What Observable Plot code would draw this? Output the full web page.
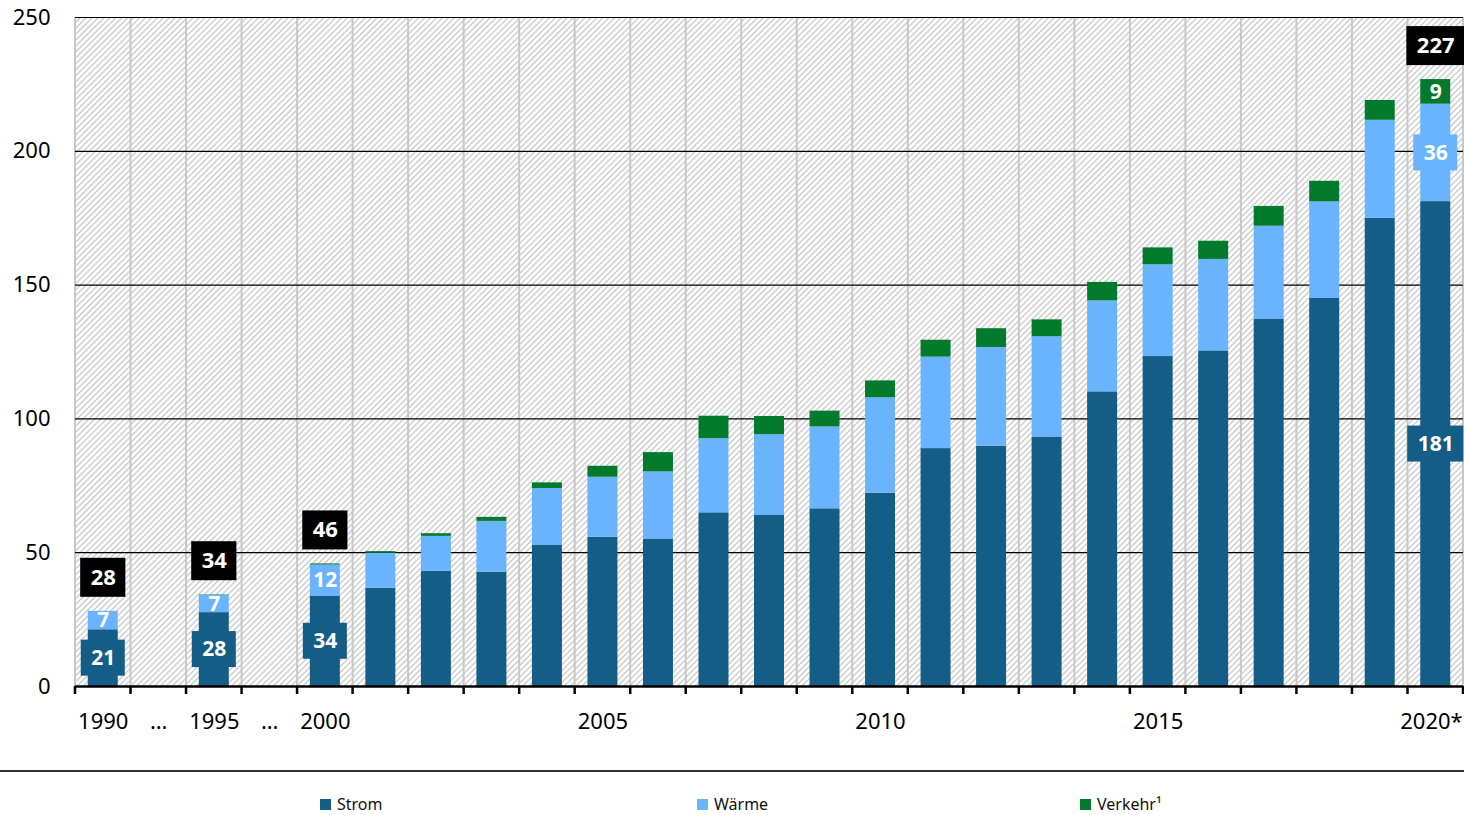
<!DOCTYPE html>
<html>
<head>
<meta charset="utf-8">
<script src="https://cdn.jsdelivr.net/npm/d3@7"></script>
<script src="https://cdn.jsdelivr.net/npm/@observablehq/plot@0.6"></script>
<style>
  html, body { margin: 0; padding: 0; background: #fff; }
  #wrap { position: relative; width: 1464px; height: 815px; overflow: hidden; font-family: "Noto Sans", sans-serif; }
  #sep { position: absolute; left: 0; top: 770px; width: 1464px; border-top: 2px solid #333; }
  .leg { position: absolute; top: 793px; height: 22px; font-size: 16px; color: #111; line-height: 22px; white-space: nowrap; }
  .sw { display: inline-block; width: 11px; height: 11px; margin-right: 6px; vertical-align: baseline; }
</style>
</head>
<body>
<div id="wrap">
  <div id="chart"></div>
  <div id="sep"></div>
  <div id="legend"></div>
</div>
<script>
// ---------- data ----------
const categories = ["1990","…1","1995","…2","2000","2001","2002","2003","2004","2005","2006","2007","2008","2009","2010","2011","2012","2013","2014","2015","2016","2017","2018","2019","2020*"];
const tickCategories = ["1990","…1","1995","…2","2000","2005","2010","2015"];
const tickText = ["1990","…","1995","…","2000","2005","2010","2015"];
const lastTick = "2020*";
const yTicks = [0, 50, 100, 150, 200, 250];

const strom   = [21.2, null, 27.6, null, 33.8, 36.7, 43.1, 42.7, 52.7, 55.8, 55.1, 64.9, 63.9, 66.4, 72.2, 88.9, 89.8, 93.2, 110.1, 123.3, 125.4, 137.3, 145.0, 175.0, 181.2];
const waerme  = [6.9, null, 6.6, null, 11.6, 13.1, 13.0, 19.0, 21.3, 22.4, 25.1, 27.7, 30.2, 30.6, 35.7, 34.2, 36.9, 37.5, 34.0, 34.3, 34.2, 34.7, 36.1, 36.6, 36.4];
const verkehr = [0.0, null, 0.1, null, 0.4, 0.6, 1.0, 1.5, 2.1, 4.1, 7.2, 8.4, 6.8, 5.9, 6.3, 6.3, 7.0, 6.3, 6.9, 6.3, 6.8, 7.4, 7.7, 7.4, 9.2];

const seriesNames  = ["Strom", "Wärme", "Verkehr¹"];
const seriesColors = ["#135d86", "#6ab4fe", "#037a2c"];
const labelCats = ["1990", "1995", "2000", "2020*"];

// ---------- layout ----------
const W = 1464, H = 745, mL = 75, mR = 1, mT = 17, mB = 59;
const FONT = '"Noto Sans", sans-serif';
const LABEL_FS = 21;
const PADX = 10, SEG_BOX_H = 36, TOTAL_BOX_H = 39, TOTAL_GAP = 14;
const TOTAL_DY = -(TOTAL_GAP + TOTAL_BOX_H / 2);
const pxPerUnit = (H - mT - mB) / 250;

// ---------- derived tables ----------
const series = [strom, waerme, verkehr];
const rows = [], segLabels = [], totals = [];
categories.forEach((c, i) => {
  if (strom[i] == null) return;
  let base = 0;
  series.forEach((arr, k) => {
    rows.push({cat: c, series: seriesNames[k], value: arr[i]});
    if (labelCats.includes(c) && arr[i] * pxPerUnit >= 15) {
      segLabels.push({cat: c, lo: base, hi: base + arr[i], mid: base + arr[i] / 2,
                      text: String(Math.round(arr[i])), color: seriesColors[k]});
    }
    base += arr[i];
  });
  if (labelCats.includes(c)) totals.push({cat: c, total: base, text: String(Math.round(base))});
});

const measure = (size) => {
  const ctx = document.createElement("canvas").getContext("2d");
  ctx.font = `bold ${size}px ${FONT}`;
  return t => ctx.measureText(t).width;
};
const measureSeg = measure(LABEL_FS), measureTot = measure(LABEL_FS + 1);

// ---------- custom render marks ----------
const background = (index, scales, values, dim) => {
  const g = d3.create("svg:g");
  const pat = g.append("defs").append("pattern")
    .attr("id", "hatch").attr("width", 4.2).attr("height", 4.2)
    .attr("patternUnits", "userSpaceOnUse").attr("patternTransform", "rotate(45)");
  pat.append("rect").attr("width", 4.2).attr("height", 4.2).attr("fill", "#fff");
  pat.append("line").attr("x1", 2.1).attr("y1", 0).attr("x2", 2.1).attr("y2", 4.2)
    .attr("stroke", "#c6c6c6").attr("stroke-width", 1.3);
  g.append("rect")
    .attr("x", dim.marginLeft).attr("y", dim.marginTop)
    .attr("width", dim.width - dim.marginLeft - dim.marginRight)
    .attr("height", dim.height - dim.marginTop - dim.marginBottom)
    .attr("fill", "url(#hatch)");
  return g.node();
};

const bandEdges = (x) => {
  const s = x.step(), bw = x.bandwidth();
  const e = x.domain().map(c => x(c) + bw / 2 - s / 2);
  e.push(e[e.length - 1] + s);
  return e;
};

const verticalGrid = (index, {x}, values, dim) => {
  const g = d3.create("svg:g").attr("stroke", "#c8c8c8").attr("stroke-width", 2);
  for (const e of bandEdges(x)) {
    g.append("line").attr("x1", e).attr("x2", e)
      .attr("y1", dim.marginTop).attr("y2", dim.height - dim.marginBottom);
  }
  return g.node();
};

const edgeTicks = (index, {x, y}) => {
  const g = d3.create("svg:g").attr("stroke", "#000").attr("stroke-width", 2.5);
  const y0 = y(0);
  for (const e of bandEdges(x)) {
    g.append("line").attr("x1", e).attr("x2", e).attr("y1", y0).attr("y2", y0 + 8);
  }
  return g.node();
};

const labelBoxes = (index, {x, y}) => {
  const g = d3.create("svg:g");
  const cx = c => x(c) + x.bandwidth() / 2;
  for (const d of segLabels) {
    if (y(d.lo) - y(d.hi) < SEG_BOX_H) continue;
    const w = measureSeg(d.text) + 2 * PADX;
    g.append("rect").attr("x", cx(d.cat) - w / 2).attr("y", y(d.mid) - SEG_BOX_H / 2)
      .attr("width", w).attr("height", SEG_BOX_H).attr("fill", d.color);
  }
  for (const d of totals) {
    const w = measureTot(d.text) + 2 * PADX;
    g.append("rect").attr("x", cx(d.cat) - w / 2).attr("y", y(d.total) + TOTAL_DY - TOTAL_BOX_H / 2)
      .attr("width", w).attr("height", TOTAL_BOX_H).attr("fill", "#000");
  }
  return g.node();
};

// ---------- plot ----------
const chart = Plot.plot({
  width: W, height: H,
  marginLeft: mL, marginRight: mR, marginTop: mT, marginBottom: mB,
  style: {fontFamily: FONT, fontSize: "22px", color: "#000", background: "transparent", overflow: "visible"},
  x: {domain: categories, paddingInner: 0.46, paddingOuter: 0.23, round: false, label: null},
  y: {domain: [0, 250], label: null},
  color: {domain: seriesNames, range: seriesColors},
  marks: [
    background,
    verticalGrid,
    Plot.ruleY(yTicks.filter(d => d > 0), {stroke: "#000", strokeWidth: 1.2}),
    Plot.barY(rows, {x: "cat", y: "value", fill: "series"}),
    labelBoxes,
    Plot.text(segLabels, {x: "cat", y: "mid", text: "text", fill: "#fff", fontWeight: "bold", fontSize: LABEL_FS}),
    Plot.text(totals, {x: "cat", y: "total", dy: TOTAL_DY, text: "text", fill: "#fff", fontWeight: "bold", fontSize: LABEL_FS + 1}),
    Plot.ruleY([0], {stroke: "#000", strokeWidth: 2.5}),
    edgeTicks,
    Plot.axisY({ticks: yTicks, tickSize: 0, tickPadding: 25, fontSize: 22, label: null}),
    Plot.axisX({ticks: tickCategories, tickFormat: d => tickText[tickCategories.indexOf(d)],
                tickSize: 0, tickPadding: 27, fontSize: 22, label: null}),
    Plot.axisX({ticks: [lastTick], tickSize: 0, tickPadding: 27, fontSize: 22, label: null,
                textAnchor: "end", dx: 27})
  ]
});
document.getElementById("chart").appendChild(chart);

// ---------- legend ----------
const legendLeft = [320, 697, 1080];
const legend = document.getElementById("legend");
seriesNames.forEach((name, k) => {
  const item = document.createElement("div");
  item.className = "leg";
  item.style.left = legendLeft[k] + "px";
  const sw = document.createElement("span");
  sw.className = "sw";
  sw.style.background = seriesColors[k];
  const tx = document.createElement("span");
  tx.textContent = name;
  item.appendChild(sw); item.appendChild(tx);
  legend.appendChild(item);
});
</script>
</body>
</html>
